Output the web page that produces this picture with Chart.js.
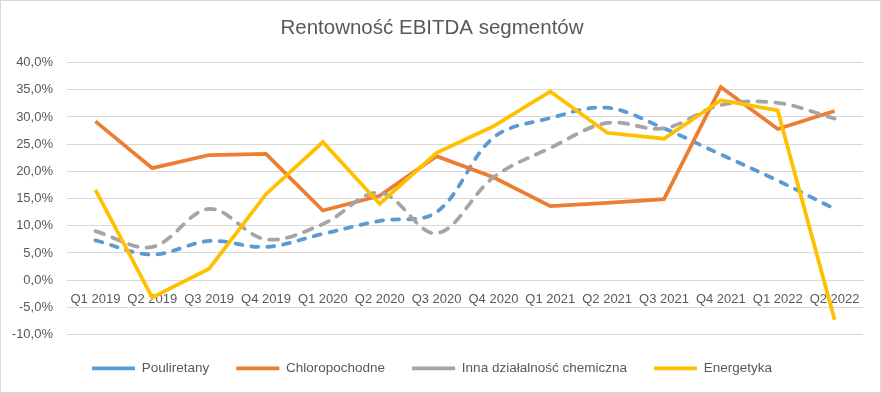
<!DOCTYPE html>
<html><head><meta charset="utf-8">
<script src="https://cdn.jsdelivr.net/npm/chart.js@4.4.1/dist/chart.umd.min.js"></script>
<style>
html,body{margin:0;padding:0;background:#fff;}
#wrap{width:881px;height:393px;box-sizing:border-box;border:1px solid #D9D9D9;position:relative;}
canvas{display:block;}
</style></head>
<body><div id="wrap"><canvas id="c" width="879" height="391"></canvas></div>
<script>
const categories = ['Q1 2019','Q2 2019','Q3 2019','Q4 2019','Q1 2020','Q2 2020','Q3 2020','Q4 2020','Q1 2021','Q2 2021','Q3 2021','Q4 2021','Q1 2022','Q2 2022'];
const pouliretany = [7.3,4.7,7.2,6.1,8.5,10.9,12.5,26.2,29.8,31.7,27.9,23.1,18.3,13.1];
const chloropochodne = [29.2,20.6,23.0,23.2,12.8,15.5,22.8,18.9,13.6,14.2,14.9,35.5,27.8,31.1];
const innaDzialalnosc = [9.0,6.1,13.1,7.5,10.3,16.1,8.6,18.9,24.3,28.9,27.9,32.2,32.6,29.7];
const energetyka = [16.6,-3.2,2.1,15.8,25.4,14.0,23.4,28.3,34.7,27.1,26.0,33.1,31.2,-7.3];
const seriesNames = ['Pouliretany','Chloropochodne','Inna działalność chemiczna','Energetyka'];
const yMin = -10, yMax = 40, yStep = 5;

const txt = '#595959';
new Chart(document.getElementById('c'), {
  type: 'line',
  data: {
    labels: categories,
    datasets: [
      {label: seriesNames[0], data: pouliretany, borderColor:'#5B9BD5', backgroundColor:'#5B9BD5', borderWidth:3.75, borderDash:[7,9], borderCapStyle:'round', tension:0.35, pointRadius:0, order:3},
      {label: seriesNames[1], data: chloropochodne, borderColor:'#ED7D31', backgroundColor:'#ED7D31', borderWidth:3.75, tension:0, pointRadius:0, order:2},
      {label: seriesNames[2], data: innaDzialalnosc, borderColor:'#A5A5A5', backgroundColor:'#A5A5A5', borderWidth:3.75, borderDash:[9,9], borderCapStyle:'round', tension:0.35, pointRadius:0, order:1},
      {label: seriesNames[3], data: energetyka, borderColor:'#FFC000', backgroundColor:'#FFC000', borderWidth:3.75, tension:0, pointRadius:0, order:0}
    ]
  },
  options: {
    responsive:false, animation:false,
    layout:{padding:{left:0,right:17,top:0,bottom:7}},
    plugins:{
      tooltip:{enabled:false},
      title:{display:true,text:'Rentowność EBITDA segmentów',color:txt,font:{family:'Liberation Sans',size:20.5,weight:'normal'},padding:{top:15,bottom:22}},
      legend:{position:'bottom',labels:{usePointStyle:true,pointStyle:'line',pointStyleWidth:43,boxHeight:3,color:txt,font:{family:'Liberation Sans',size:13.5},padding:27,
        sort:(a,b)=>a.datasetIndex-b.datasetIndex}}
    },
    scales:{
      x:{position:{y:0},offset:true,grid:{display:false,drawTicks:false},border:{color:'#D9D9D9'},
         ticks:{color:txt,font:{family:'Liberation Sans',size:13},maxRotation:0,autoSkip:false,padding:12}},
      y:{min:yMin,max:yMax,afterFit:s=>{s.width=66;},ticks:{stepSize:yStep,color:txt,font:{family:'Liberation Sans',size:13},padding:14,
         callback:v=>v.toFixed(1).replace('.',',')+'%'},
         grid:{color:'#D9D9D9',drawTicks:false},border:{display:false}}
    }
  }
});
</script></body></html>
